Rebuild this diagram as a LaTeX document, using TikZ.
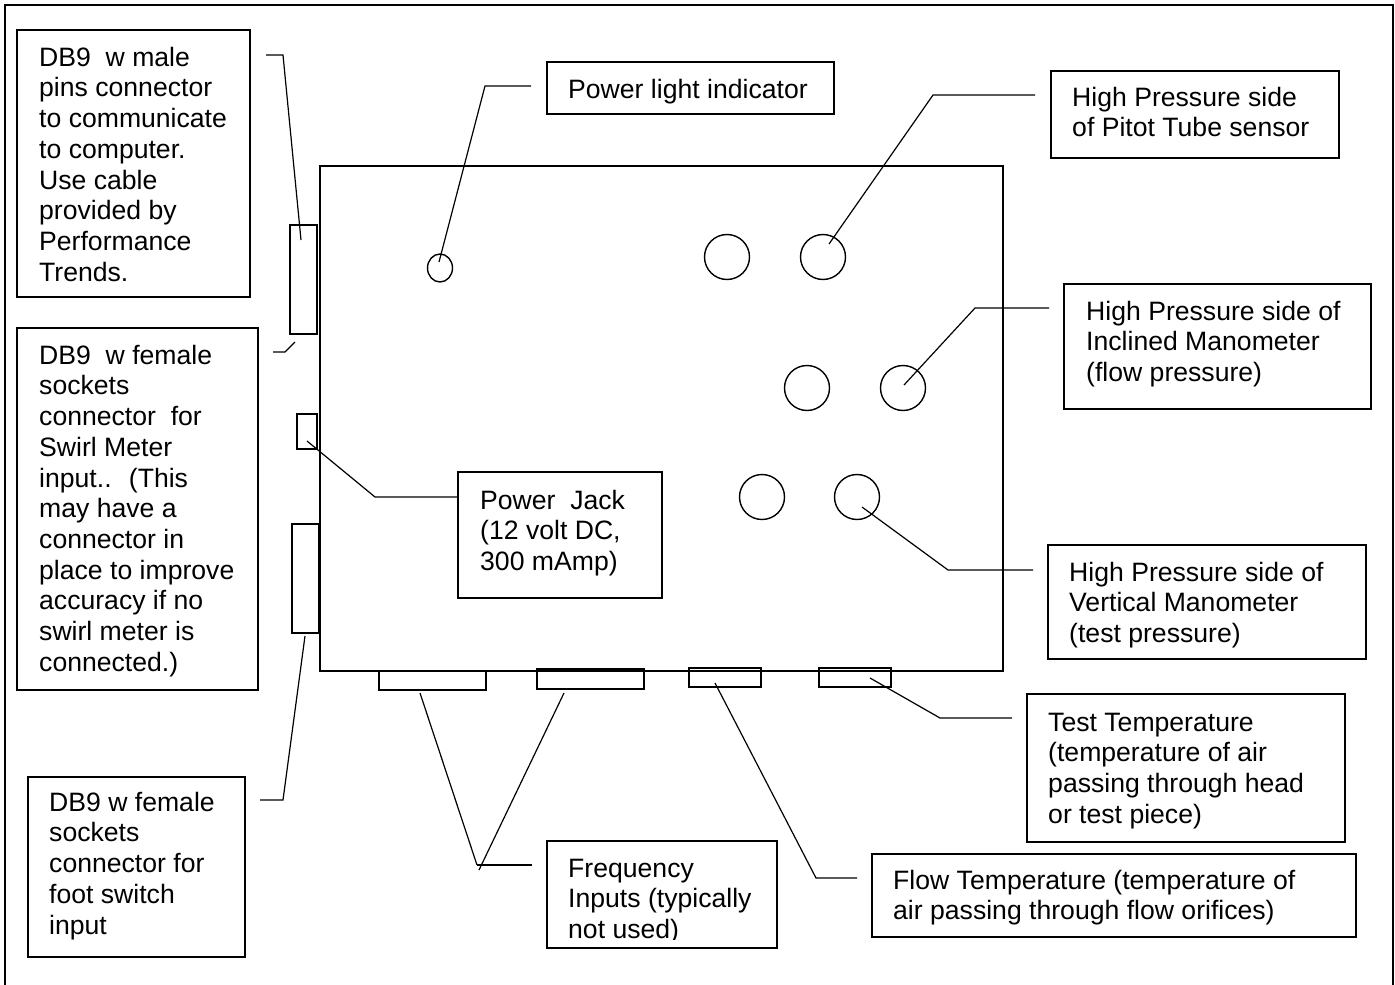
\documentclass[tikz,border=0pt]{standalone}
\usepackage{fontspec}
\setmainfont{Liberation Sans}
\usetikzlibrary{shapes.geometric}
\newcommand\lblfont{\fontsize{26.6pt}{30.7pt}\selectfont}
\newcommand\topstrut{\rule{0pt}{21pt}}
\begin{document}
\begin{tikzpicture}[x=1pt,y=-1pt,
  frame/.style={draw, line width=1.4pt, rectangle, inner sep=0pt, outer sep=0pt, anchor=north west},
  port/.style={frame},
  knob/.style={draw, circle, line width=1.4pt, minimum size=45pt, inner sep=0pt, outer sep=0pt},
  lead/.style={line width=1.2pt},
  lbl/.style={anchor=north west, inner sep=0pt, align=left, font=\lblfont},
]
\useasboundingbox (0,0) rectangle (1395,985);
% page border (open at the bottom edge)
\draw[line width=1.6pt] (5,995) -- (5,5) -- (1393,5) -- (1393,995);

% controller body
\node[frame, minimum width=683pt, minimum height=505pt] (body) at (320,166) {};

% side connectors
\node[port, minimum width=27pt, minimum height=109pt] (maleport) at (290,225) {};
\node[port, minimum width=20pt, minimum height=35pt] (jackport) at (297,414) {};
\node[port, minimum width=27pt, minimum height=109pt] (footport) at (292,524) {};

% bottom connectors
\node[port, minimum width=107pt, minimum height=19pt] (freqA) at (379,671) {};
\node[port, minimum width=107pt, minimum height=20pt] (freqB) at (537,669) {};
\node[port, minimum width=72pt, minimum height=19pt] (flowport) at (689,668) {};
\node[port, minimum width=72pt, minimum height=19pt] (testport) at (819,668) {};

% power light and pressure fittings
\node[draw, ellipse, line width=1.4pt, minimum width=25pt, minimum height=28pt, inner sep=0pt] (led) at (440,268) {};
\node[knob] (k1) at (727,257) {};
\node[knob] (k2) at (823,257) {};
\node[knob] (k3) at (807,388) {};
\node[knob] (k4) at (903,388) {};
\node[knob] (k5) at (762,497) {};
\node[knob] (k6) at (857,497) {};

% callout frames
\node[frame, minimum width=233pt, minimum height=267pt] (dbmale) at (17,30) {};
\node[frame, minimum width=241pt, minimum height=362pt] (dbswirl) at (17,328) {};
\node[frame, minimum width=217pt, minimum height=180pt] (dbfoot) at (28,777) {};
\node[frame, minimum width=287pt, minimum height=52pt] (ledbox) at (547,62) {};
\node[frame, minimum width=288pt, minimum height=87pt] (pitot) at (1051,71) {};
\node[frame, minimum width=307pt, minimum height=125pt] (incl) at (1064,284) {};
\node[frame, minimum width=318pt, minimum height=114pt] (vert) at (1048,545) {};
\node[frame, minimum width=318pt, minimum height=148pt] (testT) at (1027,694) {};
\node[frame, minimum width=484pt, minimum height=83pt] (flowT) at (872,854) {};
\node[frame, minimum width=230pt, minimum height=107pt] (freq) at (547,841) {};
\node[frame, minimum width=204pt, minimum height=126pt] (jack) at (458,472) {};

% callout texts
\node[lbl] (dbmaleT) at (39,45) {\topstrut DB9~ w male\\pins connector\\to communicate\\to computer.\\Use cable\\provided by\\Performance\\Trends.};
\node[lbl] (dbswirlT) at (39,343) {\topstrut DB9~ w female\\sockets\\connector~ for\\Swirl Meter\\input..~ (This\\may have a\\connector in\\place to improve\\accuracy if no\\swirl meter is\\connected.)};
\node[lbl] (dbfootT) at (49,790) {\topstrut DB9 w female\\sockets\\connector for\\foot switch\\input};
\node[lbl] (ledT) at (568,77) {\topstrut Power light indicator};
\node[lbl] (pitotT) at (1072,85) {\topstrut High Pressure side\\of Pitot Tube sensor};
\node[lbl] (inclT) at (1086,299) {\topstrut High Pressure side of\\Inclined Manometer\\(flow pressure)};
\node[lbl] (vertT) at (1069,560) {\topstrut High Pressure side of\\Vertical Manometer\\(test pressure)};
\node[lbl] (testTT) at (1048,710) {\topstrut Test Temperature\\(temperature of air\\passing through head\\or test piece)};
\node[lbl] (flowTT) at (893,868) {\topstrut Flow Temperature (temperature of\\air passing through flow orifices)};
\node[lbl] (jackT) at (480,488) {\topstrut Power~ Jack\\(12 volt DC,\\300 mAmp)};
\begin{scope}
  \clip (freq.north west) rectangle (777,939);
  \node[lbl] (freqT) at (568,856) {\topstrut Frequency\\Inputs (typically\\not used)};
\end{scope}

% leader lines
\coordinate (aS) at (266,55);  \coordinate (aB) at (283,55);  \coordinate (aE) at (301,240);
\draw[lead] (aS) -- (aB) -- (aE);
\coordinate (hS) at (273,352); \coordinate (hB) at (285,352); \coordinate (hE) at (295,342);
\draw[lead] (hS) -- (hB) -- (hE);
\coordinate (jS) at (307,441); \coordinate (jB) at (375,497);
\draw[lead] (jS) -- (jB) -- (jB -| jack.west);
\coordinate (fS) at (305,636); \coordinate (fB) at (283,800); \coordinate (fE) at (260,800);
\draw[lead] (fS) -- (fB) -- (fE);
\coordinate (lS) at (531,86);  \coordinate (lB) at (485,86);  \coordinate (lE) at (439,262);
\draw[lead] (lS) -- (lB) -- (lE);
\coordinate (pS) at (1035,95); \coordinate (pB) at (933,95);  \coordinate (pE) at (829,244);
\draw[lead] (pS) -- (pB) -- (pE);
\coordinate (iS) at (1049,308); \coordinate (iB) at (975,308); \coordinate (iE) at (904,385);
\draw[lead] (iS) -- (iB) -- (iE);
\coordinate (vS) at (1033,570); \coordinate (vB) at (948,570); \coordinate (vE) at (862,507);
\draw[lead] (vS) -- (vB) -- (vE);
\coordinate (tS) at (1012,718); \coordinate (tB) at (940,718); \coordinate (tE) at (870,678);
\draw[lead] (tS) -- (tB) -- (tE);
\coordinate (wS) at (857,878); \coordinate (wB) at (816,878); \coordinate (wE) at (715,683);
\draw[lead] (wS) -- (wB) -- (wE);
\coordinate (qA) at (420,693); \coordinate (qB) at (564,693);
\coordinate (qV) at (477,865); \coordinate (qW) at (479,870); \coordinate (qE) at (532,865);
\draw[lead] (qA) -- (qV);
\draw[lead] (qB) -- (qW);
\draw[lead] (qV) -- (qE);
\end{tikzpicture}
\end{document}
